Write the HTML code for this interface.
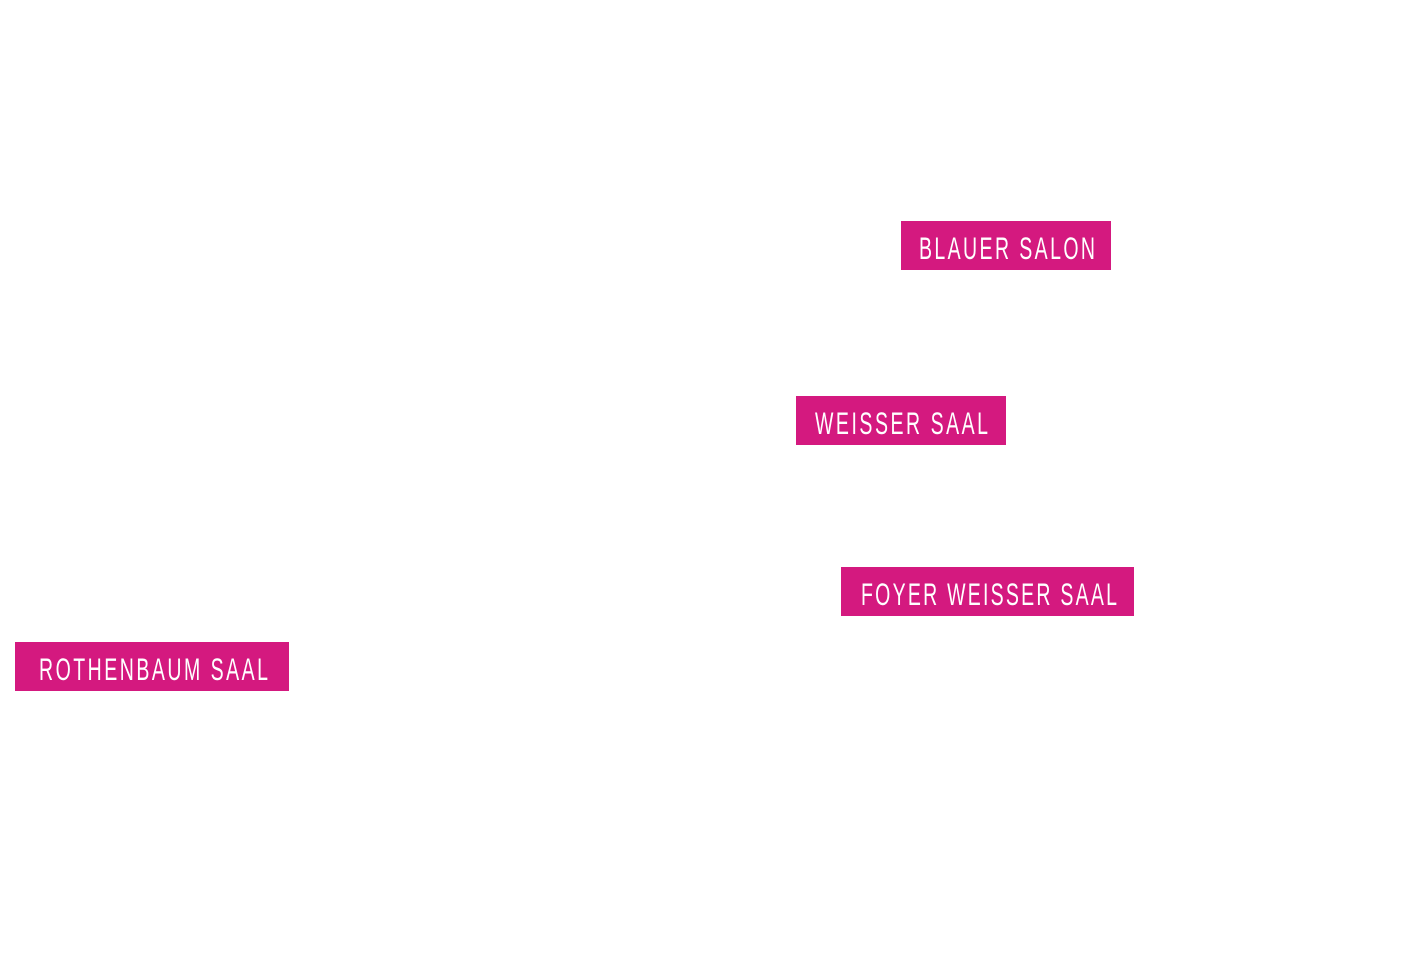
<!DOCTYPE html>
<html><head><style>
body{margin:0;width:1408px;height:974px;background:#fff;overflow:hidden}
svg{display:block}
text{font-family:"Liberation Sans Narrow","Liberation Sans",sans-serif;font-size:25px;fill:#fff}
</style></head><body>
<svg width="1408" height="974" viewBox="0 0 1408 974">
<rect x="901" y="221" width="210" height="49" fill="#d4197f"/>
<g transform="translate(919,259) scale(0.78,1.27)"><text x="0" y="0" textLength="225.6" lengthAdjust="spacing">BLAUER SALON</text></g>
<rect x="796" y="396" width="210" height="49" fill="#d4197f"/>
<g transform="translate(815,434) scale(0.78,1.27)"><text x="0" y="0" textLength="221.8" lengthAdjust="spacing">WEISSER SAAL</text></g>
<rect x="841" y="567" width="293" height="49" fill="#d4197f"/>
<g transform="translate(861,605) scale(0.78,1.27)"><text x="0" y="0" textLength="328.2" lengthAdjust="spacing">FOYER WEISSER SAAL</text></g>
<rect x="15" y="642" width="274" height="49" fill="#d4197f"/>
<g transform="translate(39,680) scale(0.78,1.27)"><text x="0" y="0" textLength="293.6" lengthAdjust="spacing">ROTHENBAUM SAAL</text></g>
</svg>
</body></html>
